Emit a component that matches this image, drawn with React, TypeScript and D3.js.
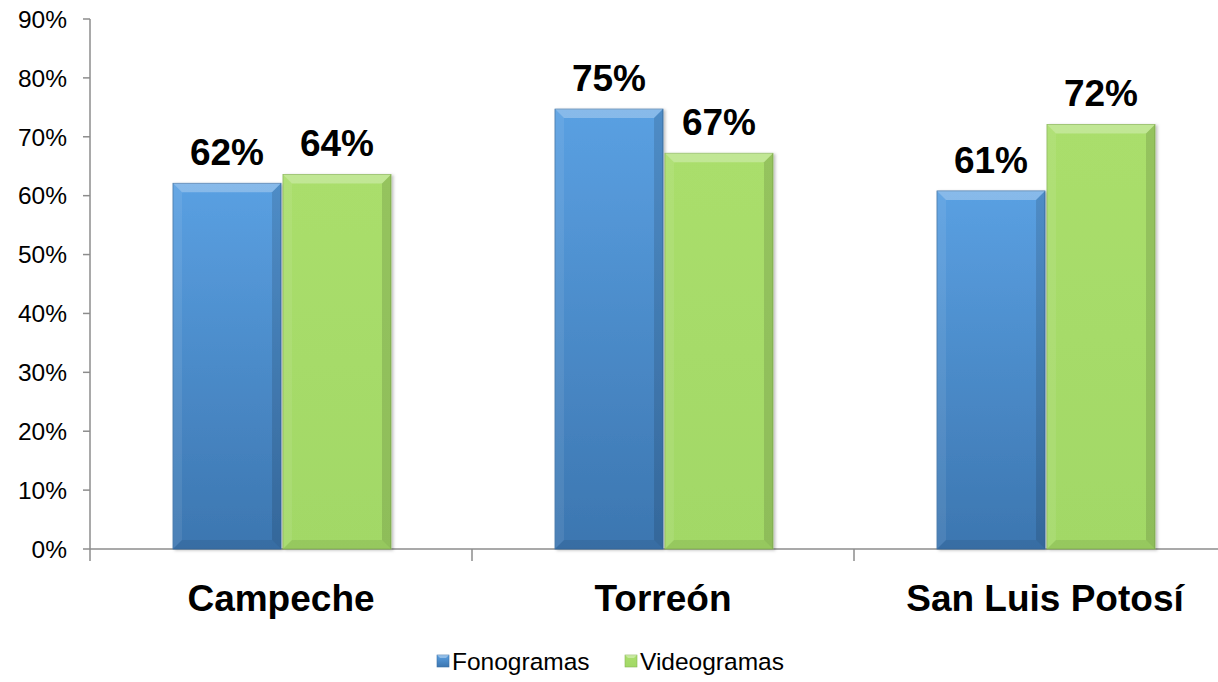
import React from 'react';
import * as d3 from 'd3';

const categories = ['Campeche', 'Torreón', 'San Luis Potosí'];
const seriesNames = ['Fonogramas', 'Videogramas'];
const fonogramas = [62.1, 74.7, 60.8];
const videogramas = [63.6, 67.2, 72.1];
const labelsFono = ['62%', '75%', '61%'];
const labelsVideo = ['64%', '67%', '72%'];
const yTicks = [0, 10, 20, 30, 40, 50, 60, 70, 80, 90];

const W = 1218;
const H = 682;
const margin = { top: 19, left: 90, bottom: 549 };
const font = '"Liberation Sans", Arial, sans-serif';

const colors = {
  Fonogramas: { top: '#5aa0e2', bottom: '#3c76b0', edge: '#3a6ea3' },
  Videogramas: { top: '#aade6c', bottom: '#a2d866', edge: '#87b454' },
};

const App = () => {
  const y = d3.scaleLinear().domain([0, 90]).range([margin.bottom, margin.top]);
  const x0 = d3.scaleBand().domain(categories).range([margin.left, margin.left + 382 * 3]).padding(0);
  const x1 = d3.scaleBand().domain(seriesNames).range([83, 301]).paddingInner(0.018);
  const values = { Fonogramas: fonogramas, Videogramas: videogramas };
  const labels = { Fonogramas: labelsFono, Videogramas: labelsVideo };
  const b = 9;

  return (
    <svg width={W} height={H} style={{ position: 'absolute', left: 0, top: 0, background: '#fff' }} fontFamily={font}>
      <defs>
        {seriesNames.map((s) => (
          <linearGradient key={s} id={`g-${s}`} x1="0" y1="0" x2="0" y2="1">
            <stop offset="0" stopColor={colors[s].top} />
            <stop offset="1" stopColor={colors[s].bottom} />
          </linearGradient>
        ))}
        <filter id="shadow" x="-10%" y="-10%" width="130%" height="130%">
          <feDropShadow dx="2" dy="1" stdDeviation="1.5" floodColor="#000" floodOpacity="0.25" />
        </filter>
      </defs>

      {/* y axis */}
      <line x1={margin.left} x2={margin.left} y1={margin.top} y2={margin.bottom} stroke="#8c8c8c" strokeWidth={1.5} />
      {yTicks.map((t) => (
        <g key={t}>
          <line x1={margin.left - 7} x2={margin.left} y1={y(t)} y2={y(t)} stroke="#8c8c8c" strokeWidth={1.5} />
          <text x={67} y={y(t)} dy="0.36em" textAnchor="end" fontSize={24.5} fill="#000">{t}%</text>
        </g>
      ))}

      {/* x axis */}
      <line x1={margin.left} x2={W} y1={margin.bottom} y2={margin.bottom} stroke="#8c8c8c" strokeWidth={1.5} />
      {categories.map((c) => (
        <line key={c} x1={x0(c)} x2={x0(c)} y1={margin.bottom} y2={margin.bottom + 12} stroke="#8c8c8c" strokeWidth={1.5} />
      ))}

      {/* bars */}
      {categories.map((c, i) => (
        <g key={c}>
          {seriesNames.map((s) => {
            const v = values[s][i];
            const bx = x0(c) + x1(s);
            const bw = x1.bandwidth();
            const by = y(v);
            const bh = margin.bottom - by;
            return (
              <g key={s}>
                <rect x={bx} y={by} width={bw} height={bh} fill={`url(#g-${s})`} stroke={colors[s].edge} strokeWidth={0.8} filter="url(#shadow)" />
                <polygon points={`${bx},${by} ${bx + bw},${by} ${bx + bw - b},${by + b} ${bx + b},${by + b}`} fill="#fff" opacity={0.28} />
                <polygon points={`${bx},${by} ${bx + b},${by + b} ${bx + b},${by + bh - b} ${bx},${by + bh}`} fill="#fff" opacity={0.08} />
                <polygon points={`${bx + bw},${by} ${bx + bw - b},${by + b} ${bx + bw - b},${by + bh - b} ${bx + bw},${by + bh}`} fill="#000" opacity={0.12} />
                <polygon points={`${bx},${by + bh} ${bx + b},${by + bh - b} ${bx + bw - b},${by + bh - b} ${bx + bw},${by + bh}`} fill="#000" opacity={0.07} />
                <text x={bx + bw / 2} y={by - 18} textAnchor="middle" fontSize={37} fontWeight="bold" fill="#000">
                  {labels[s][i]}
                </text>
              </g>
            );
          })}
          <text x={x0(c) + x0.bandwidth() / 2} y={598} dy="0.36em" textAnchor="middle" fontSize={37} fontWeight="bold" fill="#000">
            {c}
          </text>
        </g>
      ))}

      {/* legend */}
      {seriesNames.map((s, i) => {
        const lx = i === 0 ? 437 : 625;
        return (
          <g key={s}>
            <rect x={lx} y={655} width={12} height={12} fill={`url(#g-${s})`} stroke={colors[s].edge} strokeWidth={0.6} />
            <polygon points={`${lx},655 ${lx + 12},655 ${lx + 9},658 ${lx + 3},658`} fill="#fff" opacity={0.35} />
            <text x={lx + 15} y={661} dy="0.36em" fontSize={24.5} fill="#000">{s}</text>
          </g>
        );
      })}
    </svg>
  );
};

export default App;
